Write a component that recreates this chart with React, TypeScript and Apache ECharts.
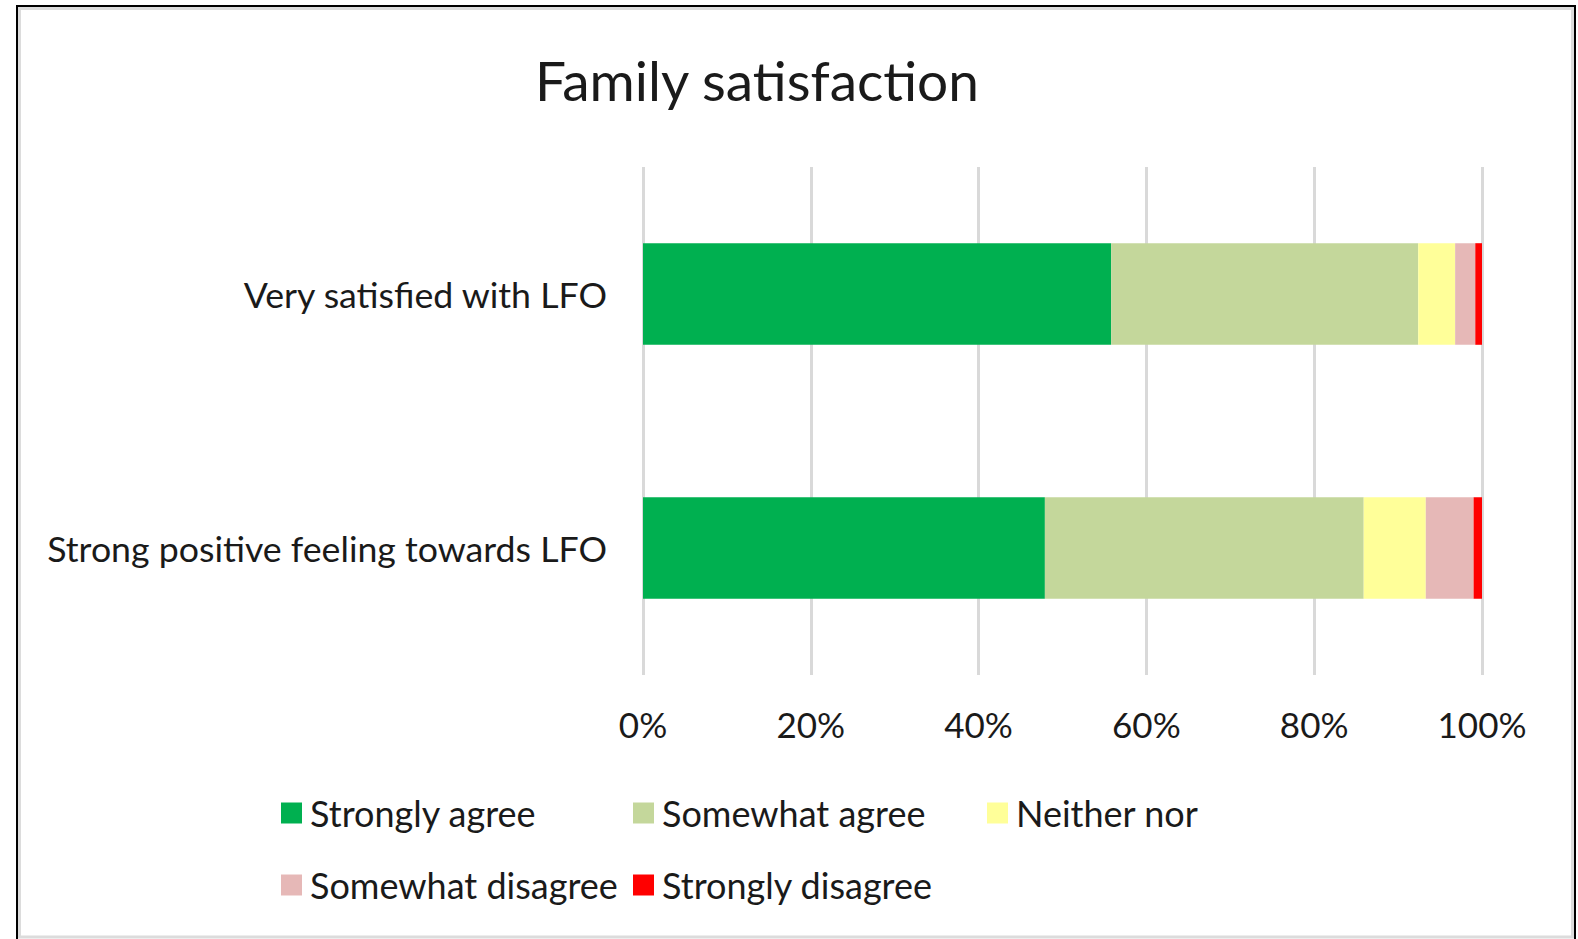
import React, { useEffect, useRef } from "react";
import * as echarts from "echarts";

const categories = ["Very satisfied with LFO", "Strong positive feeling towards LFO"];
const seriesNames = ["Strongly agree", "Somewhat agree", "Neither nor", "Somewhat disagree", "Strongly disagree"];
const stronglyAgree = [55.8, 47.9];
const somewhatAgree = [36.6, 38.0];
const neitherNor = [4.4, 7.4];
const somewhatDisagree = [2.4, 5.7];
const stronglyDisagree = [0.8, 1.0];
const xTicks = [0, 20, 40, 60, 80, 100];
const colors = ["#00B050", "#C4D79B", "#FFFF99", "#E6B8B7", "#FF0000"];

const FONT = "Lato";

export default function App() {
  const ref = useRef<HTMLDivElement>(null);
  useEffect(() => {
    if (!ref.current) return;
    const chart = echarts.init(ref.current, undefined, { renderer: "svg" });
    const values = [stronglyAgree, somewhatAgree, neitherNor, somewhatDisagree, stronglyDisagree];
    const legendPos = [
      [281, 795],
      [633, 795],
      [987, 795],
      [281, 867],
      [633, 867],
    ];
    chart.setOption({
      animation: false,
      backgroundColor: "#ffffff",
      title: {
        text: "Family satisfaction",
        left: 530,
        top: 47,
        textStyle: { fontFamily: FONT, fontSize: 55, fontWeight: "normal", color: "#1a1a1a" },
      },
      grid: { left: 643, right: 96, top: 167, bottom: 264, containLabel: false },
      xAxis: {
        type: "value",
        min: xTicks[0],
        max: xTicks[xTicks.length - 1],
        interval: 20,
        axisLine: { show: false },
        axisTick: { show: false },
        splitLine: { show: true, lineStyle: { color: "#d9d9d9", width: 3 } },
        axisLabel: {
          formatter: "{value}%",
          margin: 31,
          fontFamily: FONT,
          fontSize: 35,
          color: "#1a1a1a",
        },
      },
      yAxis: {
        type: "category",
        inverse: true,
        data: categories,
        axisLine: { show: false },
        axisTick: { show: false },
        axisLabel: { margin: 36, fontFamily: FONT, fontSize: 35.7, color: "#1a1a1a" },
      },
      legend: seriesNames.map((n, i) => ({
        data: [n],
        left: legendPos[i][0],
        top: legendPos[i][1],
        padding: 0,
        itemWidth: 21,
        itemHeight: 21,
        icon: "rect",
        selectedMode: false,
        textStyle: { fontFamily: FONT, fontSize: 36, color: "#1a1a1a", lineHeight: 21, padding: [0, 0, 0, 3] },
      })),
      series: seriesNames.map((n, i) => ({
        name: n,
        type: "bar",
        stack: "total",
        barWidth: "40%",
        data: values[i],
        itemStyle: { color: colors[i] },
      })),
      graphic: [
        {
          type: "rect",
          shape: { x: 17, y: 6, width: 1558, height: 960 },
          style: { fill: "none", stroke: "#000000", lineWidth: 2 },
          silent: true,
        },
        {
          type: "rect",
          shape: { x: 19.5, y: 8.5, width: 1553, height: 928.5 },
          style: { fill: "none", stroke: "#dcdcdc", lineWidth: 3 },
          silent: true,
        },
      ],
    });
    return () => chart.dispose();
  }, []);
  return (
    <div
      ref={ref}
      style={{ position: "fixed", left: 0, top: 0, width: 1578, height: 939, background: "#fff" }}
    />
  );
}
